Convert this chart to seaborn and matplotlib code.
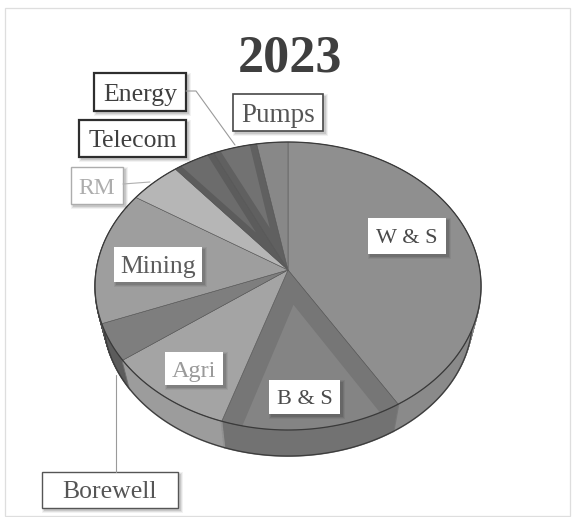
import matplotlib
matplotlib.use("Agg")
import matplotlib.pyplot as plt
import matplotlib.patches as mpatches
from matplotlib.path import Path
from matplotlib.transforms import Affine2D, Transform
import numpy as np
import seaborn as sns

# Sales share by segment, clockwise from twelve o'clock
segments = ["W & S", "B & S", "Agri", "Borewell", "Mining", "RM", "Telecom", "Energy", "Pumps"]
shares = [41.3, 13.7, 9.9, 4.2, 15.0, 4.9, 4.0, 4.1, 2.9]
top_greys = ["#8f8f8f", "#767676", "#a4a4a4", "#7e7e7e", "#9e9e9e", "#b6b6b6", "#5c5c5c", "#606060", "#888888"]
wall_greys = ["#8a8a8a", "#727272", "#9c9c9c", "#5c5c5c", "#4c4c4c", "#4c4c4c", "#4c4c4c", "#4c4c4c", "#4c4c4c"]
inner_greys = {"B & S": "#848484", "Telecom": "#6c6c6c", "Energy": "#727272"}
chart_title = "2023"

sns.set_theme(style="white")
plt.rcParams["font.family"] = ["Liberation Serif", "DejaVu Serif"]

# Perspective of the disc, in pixels
APEX_X, APEX_Y = 288.0, 270.0
WIDE, TALL, TILT = 191.8, 142.2, 1 / 9
RIM_CENTRE_Y = 286.0
WALL_DROP, WALL_SHRINK = 32.5, 0.045


class TiltedDisc(Transform):
    """Projects the unit disc onto the page, lowered and shrunk for the wall layers."""

    input_dims = output_dims = 2
    is_separable = False
    has_inverse = False

    def __init__(self, level=0.0):
        super().__init__()
        self.level = level

    def transform_non_affine(self, xy):
        xy = np.asarray(xy, dtype=float)
        w = 1 + TILT * xy[:, 1]
        px = WIDE * xy[:, 0] / w
        py = APEX_Y - TALL * xy[:, 1] / w
        s = 1 - WALL_SHRINK * self.level
        px = APEX_X + px * s
        py = RIM_CENTRE_Y + (py - RIM_CENTRE_Y) * s + WALL_DROP * self.level
        return np.column_stack([px, py])

    def transform_path_non_affine(self, path):
        polys = path.to_polygons(Affine2D().scale(2000))
        return Path(self.transform_non_affine(polys[0] / 2000), closed=True)


fig = plt.figure(figsize=(5.72, 5.17), dpi=100, facecolor="white")
ax = fig.add_axes([0, 0, 1, 1])


def draw_disc(colors, level, edge, lw):
    wedges, _ = ax.pie(shares, colors=sns.color_palette(colors), startangle=90,
                       counterclock=False, radius=1,
                       wedgeprops=dict(edgecolor=edge, linewidth=lw))
    for wedge in wedges:
        wedge.set_transform(TiltedDisc(level) + ax.transData)
    return wedges


# Wall: stacked discs from the bottom face upward, shaded where it turns away on the right
for level in np.linspace(1, 0.02, 34):
    wall = draw_disc(wall_greys, level, "none", 0)
    for wedge, grey in zip(wall, wall_greys):
        wedge.set_edgecolor(grey)
        wedge.set_linewidth(1.2)
    for theta_low, theta_high, shade in ((-22, 0, "#4a4a4a"), (-30, -22, "#6a6a6a")):
        ax.add_patch(mpatches.Wedge((0, 0), 1, theta_low, theta_high, facecolor=shade, edgecolor="none",
                                    transform=TiltedDisc(level) + ax.transData))

base_ring = mpatches.Circle((0, 0), 1, fill=False, edgecolor="#3c3c3c", linewidth=0.9,
                            transform=TiltedDisc(1) + ax.transData)
ax.add_patch(base_ring)

# Top face, with a lighter inset on the ridged slices
top = draw_disc(top_greys, 0, "#5a5a5a", 0.4)
for wedge, name in zip(top, segments):
    if name in inner_greys:
        mid = np.deg2rad((wedge.theta1 + wedge.theta2) / 2)
        offset = 0.24 if name == "B & S" else 0.32
        centre = (offset * np.cos(mid), offset * np.sin(mid))
        inset = mpatches.Wedge(centre, 1.2, wedge.theta1, wedge.theta2,
                               facecolor=inner_greys[name], edgecolor="none",
                               transform=TiltedDisc(0) + ax.transData)
        ax.add_patch(inset)
        inset.set_clip_path(wedge)

rim = mpatches.Circle((0, 0), 1, fill=False, edgecolor="#3a3a3a", linewidth=0.9,
                      transform=TiltedDisc(0) + ax.transData)
ax.add_patch(rim)

# Everything below is placed in page pixels
ax.set_aspect("auto")
ax.set_xlim(0, 572)
ax.set_ylim(517, 0)
ax.axis("off")

# Faint outer frame
ax.add_patch(mpatches.Rectangle((5, 8), 565, 508, fill=False, edgecolor="#dedede", linewidth=0.9))

ax.text(289.5, 58, chart_title, ha="center", va="center", fontsize=37.5, fontweight="bold", color="#3f3f3f")

# Leader lines
ax.plot([186, 196, 235], [91, 91, 145], color="#9a9a9a", lw=0.8)
ax.plot([123, 150], [184, 182], color="#b0b0b0", lw=0.8)
ax.plot([116, 116], [472, 375], color="#9a9a9a", lw=0.8)

# (x0, y0, x1, y1, text colour, border colour, border width, font size)
label_boxes = {
    "W & S": (368, 218, 446, 254, "#4a4a4a", None, 0, 16),
    "B & S": (269, 380, 340, 414, "#4a4a4a", None, 0, 16),
    "Agri": (165, 352, 223, 385, "#9a9a9a", None, 0, 17.5),
    "Borewell": (42, 472, 178, 508, "#555555", "#555555", 1.0, 18.5),
    "Mining": (114, 247, 202, 282, "#5c5c5c", None, 0, 18.5),
    "RM": (71, 167, 123, 204, "#adadad", "#adadad", 1.0, 17),
    "Telecom": (79, 120, 186, 157, "#3f3f3f", "#2e2e2e", 1.6, 18.5),
    "Energy": (94, 73, 186, 111, "#3f3f3f", "#2e2e2e", 1.6, 18.5),
    "Pumps": (233, 94, 323, 131, "#555555", "#484848", 1.2, 19.5),
}
for name in segments:
    x0, y0, x1, y1, ink, border, bw, size = label_boxes[name]
    for grow, alpha in ((5, 0.05), (3, 0.08), (1, 0.10)):
        ax.add_patch(mpatches.Rectangle((x0 + 2 - grow / 2, y0 + 2 - grow / 2), x1 - x0 + grow, y1 - y0 + grow,
                                        facecolor="black", edgecolor="none", alpha=alpha))
    ax.add_patch(mpatches.Rectangle((x0, y0), x1 - x0, y1 - y0, facecolor="white",
                                    edgecolor=border if border else "none", linewidth=bw))
    ax.text((x0 + x1) / 2, (y0 + y1) / 2, name, ha="center", va="center_baseline",
            fontsize=size, color=ink)

fig.savefig("out.png", dpi=100, facecolor="white")
